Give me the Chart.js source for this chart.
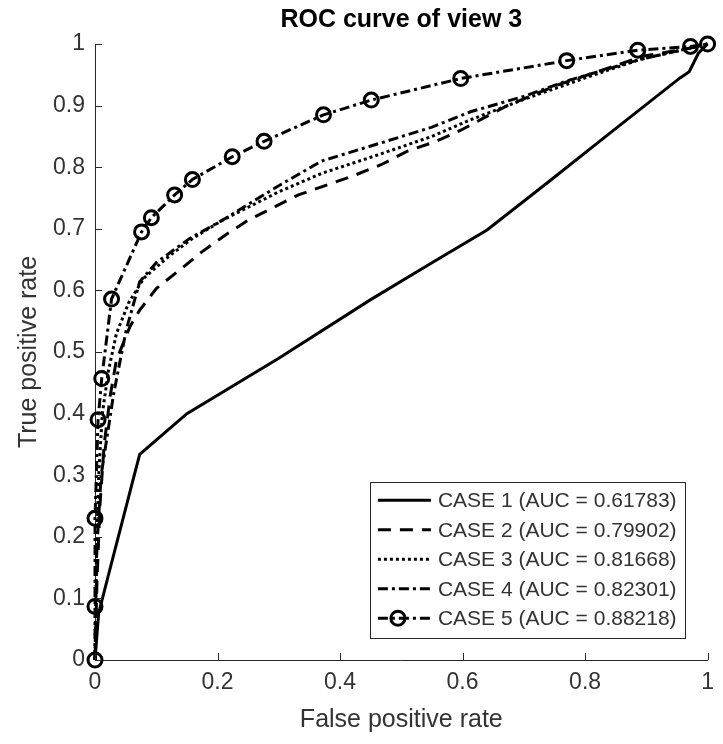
<!DOCTYPE html>
<html>
<head>
<meta charset="utf-8">
<script src="https://cdn.jsdelivr.net/npm/chart.js@4.4.0/dist/chart.umd.min.js"></script>
<style>
  html, body { margin: 0; padding: 0; background: #fff; }
  #roc { display: block; }
</style>
</head>
<body>
<canvas id="roc" width="723" height="744"></canvas>
<script>
// ROC points per case (false positive rate / true positive rate)
const case1Fpr = [0, 0.006, 0.024, 0.062, 0.073, 0.15, 0.30, 0.45, 0.55, 0.64, 0.74, 0.84, 0.955, 0.97, 0.985, 1];
const case1Tpr = [0, 0.076, 0.146, 0.292, 0.334, 0.40, 0.49, 0.585, 0.645, 0.698, 0.776, 0.855, 0.945, 0.955, 0.985, 1];

const case2Fpr = [0, 0.003, 0.008, 0.015, 0.025, 0.035, 0.057, 0.073, 0.1, 0.138, 0.175, 0.213, 0.25, 0.294, 0.332, 0.378, 0.424, 0.467, 0.51, 0.554, 0.597, 0.673, 0.754, 0.835, 0.894, 0.97, 1];
const case2Tpr = [0, 0.12, 0.25, 0.35, 0.43, 0.487, 0.541, 0.568, 0.603, 0.633, 0.663, 0.69, 0.714, 0.736, 0.755, 0.771, 0.787, 0.804, 0.826, 0.841, 0.86, 0.9, 0.933, 0.96, 0.98, 0.993, 1];

const case3Fpr = [0, 0.002, 0.006, 0.012, 0.022, 0.035, 0.055, 0.08, 0.12, 0.16, 0.21, 0.3, 0.37, 0.462, 0.55, 0.613, 0.7, 0.8, 0.89, 0.97, 1];
const case3Tpr = [0, 0.15, 0.3, 0.4, 0.47, 0.53, 0.58, 0.62, 0.655, 0.685, 0.715, 0.76, 0.79, 0.82, 0.85, 0.877, 0.91, 0.945, 0.975, 0.993, 1];

const case4Fpr = [0, 0.003, 0.01, 0.024, 0.03, 0.051, 0.073, 0.1, 0.154, 0.208, 0.3, 0.37, 0.462, 0.55, 0.613, 0.7, 0.77, 0.89, 0.97, 1];
const case4Tpr = [0, 0.18, 0.3, 0.39, 0.43, 0.536, 0.614, 0.645, 0.684, 0.714, 0.77, 0.81, 0.838, 0.865, 0.89, 0.915, 0.94, 0.975, 0.993, 1];

const case5Fpr = [0, 0, 0, 0.005, 0.011, 0.027, 0.076, 0.092, 0.130, 0.159, 0.224, 0.276, 0.373, 0.451, 0.597, 0.77, 0.886, 0.972, 1];
const case5Tpr = [0, 0.087, 0.23, 0.39, 0.457, 0.586, 0.695, 0.718, 0.755, 0.78, 0.817, 0.842, 0.885, 0.909, 0.944, 0.973, 0.99, 0.996, 1];

const caseNames = ["CASE 1", "CASE 2", "CASE 3", "CASE 4", "CASE 5"];
const aucValues = ["0.61783", "0.79902", "0.81668", "0.82301", "0.88218"];

const xTicks = [0, 0.2, 0.4, 0.6, 0.8, 1];
const yTicks = [0, 0.1, 0.2, 0.3, 0.4, 0.5, 0.6, 0.7, 0.8, 0.9, 1];

const chartTitle = "ROC curve of view 3";

const FONT = "'Liberation Sans', Arial, Helvetica, sans-serif";
const AXIS_COLOR = "#262626";
const TEXT_COLOR = "#333";

const toPoints = (xs, ys) => xs.map((x, i) => ({ x: x, y: ys[i] }));

const lineStyles = [
  { dash: [], width: 3 },
  { dash: [13, 9], width: 3 },
  { dash: [3, 3], width: 3 },
  { dash: [10, 4, 3, 4], width: 3 },
  { dash: [10, 4, 3, 4], width: 3 }
];

const series = [
  toPoints(case1Fpr, case1Tpr),
  toPoints(case2Fpr, case2Tpr),
  toPoints(case3Fpr, case3Tpr),
  toPoints(case4Fpr, case4Tpr),
  toPoints(case5Fpr, case5Tpr)
];

const datasets = series.map((pts, i) => ({
  label: `${caseNames[i]} (AUC = ${aucValues[i]})`,
  data: pts,
  showLine: true,
  tension: 0,
  borderColor: "#000",
  borderWidth: lineStyles[i].width,
  borderDash: lineStyles[i].dash,
  pointRadius: i === 4 ? 7 : 0,
  pointHoverRadius: i === 4 ? 7 : 0,
  pointBorderWidth: 3,
  pointBorderColor: "#000",
  pointBackgroundColor: "rgba(0,0,0,0)",
  clip: 10
}));

// inward tick marks, matlab style
const innerTicks = {
  id: "innerTicks",
  afterDraw(chart) {
    const { ctx, chartArea, scales } = chart;
    ctx.save();
    ctx.strokeStyle = AXIS_COLOR;
    ctx.lineWidth = 1;
    const len = 7;
    xTicks.forEach(v => {
      const px = Math.round(scales.x.getPixelForValue(v)) + 0.5;
      ctx.beginPath();
      ctx.moveTo(px, chartArea.bottom);
      ctx.lineTo(px, chartArea.bottom - len);
      ctx.stroke();
    });
    yTicks.forEach(v => {
      const py = Math.round(scales.y.getPixelForValue(v)) + 0.5;
      ctx.beginPath();
      ctx.moveTo(chartArea.left, py);
      ctx.lineTo(chartArea.left + len, py);
      ctx.stroke();
    });
    ctx.restore();
  }
};

// bold title centred over the axes rather than the whole canvas
const axesTitle = {
  id: "axesTitle",
  afterDraw(chart) {
    const { ctx, chartArea } = chart;
    ctx.save();
    ctx.font = `bold 25px ${FONT}`;
    ctx.fillStyle = "#000";
    ctx.textAlign = "center";
    ctx.textBaseline = "middle";
    ctx.fillText(chartTitle, (chartArea.left + chartArea.right) / 2, chartArea.top - 24);
    ctx.restore();
  }
};

// boxed legend in the lower right corner of the axes
const boxLegend = {
  id: "boxLegend",
  afterDraw(chart) {
    const { ctx, chartArea } = chart;
    const ds = chart.data.datasets;
    ctx.save();
    ctx.font = `21px ${FONT}`;
    const textW = Math.max(...ds.map(d => ctx.measureText(d.label).width));
    const rowH = 29.5;
    const sampleW = 53;
    const padL = 8, gap = 7, padR = 8, padV = 4;
    const w = padL + sampleW + gap + textW + padR;
    const h = rowH * ds.length + padV * 2;
    const right = chartArea.right - 23;
    const bottom = chartArea.bottom - 23;
    const left = right - w;
    const top = bottom - h;

    ctx.fillStyle = "#fff";
    ctx.fillRect(left, top, w, h);
    ctx.strokeStyle = AXIS_COLOR;
    ctx.lineWidth = 1;
    ctx.strokeRect(Math.round(left) + 0.5, Math.round(top) + 0.5, Math.round(w), Math.round(h));

    ds.forEach((d, i) => {
      const cy = top + padV + rowH * (i + 0.5);
      const x0 = left + padL;
      ctx.strokeStyle = "#000";
      ctx.lineWidth = d.borderWidth;
      ctx.setLineDash(d.borderDash);
      ctx.beginPath();
      ctx.moveTo(x0, cy);
      ctx.lineTo(x0 + sampleW, cy);
      ctx.stroke();
      ctx.setLineDash([]);
      if (d.pointRadius > 0) {
        ctx.lineWidth = d.pointBorderWidth;
        ctx.beginPath();
        ctx.arc(x0 + 20, cy, d.pointRadius, 0, Math.PI * 2);
        ctx.stroke();
      }
      ctx.fillStyle = TEXT_COLOR;
      ctx.textBaseline = "middle";
      ctx.textAlign = "left";
      ctx.fillText(d.label, x0 + sampleW + gap, cy + 1);
    });
    ctx.restore();
  }
};

const fmt = v => String(Number(v.toFixed(1)));

new Chart(document.getElementById("roc"), {
  type: "scatter",
  data: { datasets: datasets },
  options: {
    responsive: false,
    animation: false,
    events: [],
    layout: { padding: { top: 44, right: 11, left: 0, bottom: 0 } },
    plugins: {
      legend: { display: false },
      tooltip: { enabled: false },
      title: { display: false }
    },
    scales: {
      x: {
        type: "linear",
        min: 0,
        max: 1,
        afterBuildTicks: s => { s.ticks = xTicks.map(v => ({ value: v })); },
        afterFit: s => { s.height = 84; },
        grid: { display: false, drawTicks: false },
        border: { display: true, color: AXIS_COLOR, width: 1 },
        ticks: {
          color: TEXT_COLOR,
          padding: 9,
          maxRotation: 0,
          font: { family: FONT, size: 23 },
          callback: fmt
        },
        title: {
          display: true,
          text: "False positive rate",
          color: TEXT_COLOR,
          font: { family: FONT, size: 25 },
          padding: { top: 0, bottom: 9 }
        }
      },
      y: {
        type: "linear",
        min: 0,
        max: 1,
        afterBuildTicks: s => { s.ticks = yTicks.map(v => ({ value: v })); },
        afterFit: s => { s.width = 95; },
        grid: { display: false, drawTicks: false },
        border: { display: true, color: AXIS_COLOR, width: 1 },
        ticks: {
          color: TEXT_COLOR,
          padding: 10,
          font: { family: FONT, size: 23 },
          callback: fmt
        },
        title: {
          display: true,
          text: "True positive rate",
          color: TEXT_COLOR,
          font: { family: FONT, size: 25 },
          padding: { top: 14, bottom: 0 }
        }
      }
    }
  },
  plugins: [innerTicks, axesTitle, boxLegend]
});
</script>
</body>
</html>
